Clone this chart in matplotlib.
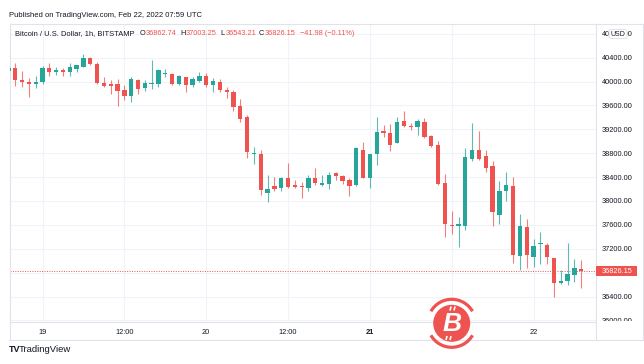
import matplotlib
matplotlib.use('Agg')
import matplotlib.pyplot as plt
import matplotlib.dates as mdates
import matplotlib.patches as mpatches
import pandas as pd

plt.rcParams['font.family'] = ['Liberation Sans', 'DejaVu Sans']

# hourly BTC/USD candles, Bitstamp
times = pd.date_range('2022-02-18 19:00', periods=85, freq='h')
opens = [40178, 40234, 40028, 39995, 39956, 39995, 40228, 40167, 40195, 40156,
         40212, 40251, 40390, 40295, 39983, 39956, 39961, 39855, 39766, 40028,
         39889, 39967, 39967, 40128, 40134, 39967, 40078, 39950, 40017, 40100,
         39950, 39995, 39855, 39828, 39588, 39399, 38787, 38792, 38130, 38252,
         38213, 38380, 38263, 38241, 38219, 38380, 38274, 38280, 38464, 38419,
         38358, 38263, 38848, 38386, 38781, 39165, 39131, 38965, 39337, 39254,
         39232, 39316, 39082, 38943, 38302, 37600, 37589, 37589, 38703, 38859,
         38748, 38581, 37767, 38174, 38258, 37077, 37561, 37054, 37272, 37266,
         37038, 36625, 36659, 36753, 36862.74]
highs = [40250, 40306, 40178, 40067, 40095, 40267, 40317, 40239, 40228, 40312,
         40284, 40462, 40406, 40329, 40073, 40028, 40039, 39944, 40084, 40045,
         40028, 40362, 40206, 40217, 40145, 40111, 40078, 40073, 40162, 40145,
         40056, 40039, 39905, 39861, 39705, 39438, 38903, 38859, 38430, 38408,
         38397, 38636, 38347, 38313, 38441, 38558, 38441, 38480, 38480, 38441,
         38380, 38903, 38987, 38787, 39404, 39276, 39287, 39399, 39499, 39304,
         39371, 39389, 39110, 38999, 38458, 37829, 37734, 38887, 39305, 39177,
         38859, 38676, 38336, 38481, 38402, 37790, 37706, 37366, 37478, 37288,
         37038, 36843, 37288, 37032, 37003.25]
lows = [40150, 39933, 39917, 39738, 39900, 39956, 40100, 40106, 40100, 40100,
        40167, 40239, 40273, 39967, 39906, 39789, 39599, 39694, 39661, 39789,
        39839, 39883, 39917, 40073, 39950, 39950, 39828, 39917, 39989, 39917,
        39833, 39833, 39722, 39499, 39315, 38720, 38619, 38107, 37990, 38163,
        38163, 38224, 38213, 38052, 38163, 38263, 38252, 38202, 38352, 38286,
        38080, 38258, 38386, 38219, 38608, 39076, 38842, 38965, 39237, 39187,
        39098, 39049, 38898, 38263, 37400, 37439, 37227, 37522, 38664, 38692,
        38480, 37589, 37617, 37996, 36954, 36843, 36882, 36893, 36937, 36937,
        36397, 36614, 36592, 36642, 36543.21]
closes = [40228, 40028, 39995, 39956, 39995, 40228, 40156, 40195, 40156, 40251,
          40273, 40395, 40295, 39978, 39922, 39933, 39850, 39766, 40045, 39878,
          39983, 39978, 40189, 40145, 39967, 40095, 39950, 40039, 40100, 39950,
          40017, 39861, 39822, 39566, 39377, 38814, 38809, 38180, 38208, 38196,
          38380, 38235, 38235, 38230, 38380, 38302, 38308, 38430, 38414, 38336,
          38252, 38881, 38386, 38781, 39148, 39137, 38937, 39321, 39248, 39232,
          39343, 39071, 38915, 38286, 37617, 37578, 37617, 38731, 38859, 38703,
          38547, 37818, 38163, 38274, 37088, 37589, 37088, 37244, 37300, 37060,
          36620, 36664, 36781, 36881, 36826.15]

price_ticks = [36000, 36400, 36800, 37200, 37600, 38000, 38400, 38800,
               39200, 39600, 40000, 40400, 40800]
# 36800 label sits under the last-price badge
price_labels = ['36000.00', '36400.00', '', '37200.00', '37600.00', '38000.00', '38400.00',
                '38800.00', '39200.00', '39600.00', '40000.00', '40400.00', '40800.00']
time_ticks = pd.to_datetime(['2022-02-19 00:00', '2022-02-19 12:00', '2022-02-20 00:00',
                             '2022-02-20 12:00', '2022-02-21 00:00', '2022-02-21 12:00',
                             '2022-02-22 00:00'])
# 21 12:00 label is covered by the watermark
time_labels = ['19', '12:00', '20', '12:00', '21', '', '22']
last_close = 36826.15
header_ohlc = [('O', '36862.74'), ('H', '37003.25'), ('L', '36543.21'), ('C', '36826.15')]
header_change = '\u221241.98 (\u22120.11%)'

UP = '#26a69a'
DOWN = '#ef5350'
TXT = '#131722'
BORDER = '#e0e3eb'
GRID = '#f0f3fa'

W, H = 644, 364
fig = plt.figure(figsize=(W / 100, H / 100), dpi=100)
fig.patch.set_facecolor('white')

# main price pane, pixel box x 10..596, y 24..322
ax = fig.add_axes([10 / W, (H - 322) / H, 586 / W, 298 / H])

x = mdates.date2num(times)
colors = [UP if c >= o else DOWN for o, c in zip(opens, closes)]
bottoms = [min(o, c) for o, c in zip(opens, closes)]
heights = [max(abs(c - o), 17) for o, c in zip(opens, closes)]

ax.vlines(x, lows, highs, colors=colors, lw=0.8, alpha=0.75, zorder=2)
ax.bar(x, heights, bottom=bottoms, width=0.63 / 24, color=colors, lw=0, zorder=3)

base = mdates.date2num(pd.Timestamp('2022-02-19'))
ax.set_xlim(base - 4.77 / 24, base + 81.16 / 24)
ax.set_ylim(35973, 40964)

ax.set_yticks(price_ticks, price_labels)
ax.yaxis.tick_right()
ax.tick_params(axis='y', length=0, pad=4.3, labelsize=5.3, labelcolor=TXT)
ax.set_xticks(mdates.date2num(time_ticks), time_labels)
ax.tick_params(axis='x', length=0, pad=5.0, labelsize=5.3, labelcolor=TXT)
ax.get_xticklabels()[4].set_fontweight('bold')
ax.grid(True, color=GRID, lw=0.75, zorder=0)
ax.set_axisbelow(True)
for s in ax.spines.values():
    s.set_color(BORDER)
    s.set_linewidth(0.8)

# last price line and label
ax.axhline(last_close, color=DOWN, lw=0.7, ls=(0, (1, 1.5)), zorder=1)
ytr = ax.get_yaxis_transform()
ax.add_patch(mpatches.Rectangle((1.0, last_close - 80), 41 / 586, 160, transform=ytr,
                                fc=DOWN, ec='none', clip_on=False, zorder=5))
ax.text(1.0 + 6 / 586, last_close, f'{last_close:.2f}', transform=ytr, ha='left',
        va='center', color='white', fontsize=5.3, zorder=6, clip_on=False)

# overlay in pixel coordinates for frame, header and watermark
ov = fig.add_axes([0, 0, 1, 1])
ov.set_xlim(0, W)
ov.set_ylim(H, 0)
ov.axis('off')
ov.patch.set_alpha(0)

ov.add_patch(mpatches.Rectangle((597, 321), 45, 18.5, fc='white', ec='none'))
ov.plot([9.5, 643], [339.5, 339.5], color=BORDER, lw=0.8)
ov.plot([596, 596], [322, 339.5], color=BORDER, lw=0.8)
ov.plot([643, 643], [24, 339.5], color=BORDER, lw=0.8)
ov.plot([596, 643], [24, 24], color=BORDER, lw=0.8)
ov.plot([10, 10], [322, 339.5], color=BORDER, lw=0.8)

ov.text(9, 15.7, 'Published on TradingView.com, Feb 22, 2022 07:59 UTC',
        fontsize=5.5, color=TXT, va='center', ha='left')
ov.text(15, 33.3, 'Bitcoin / U.S. Dollar, 1h, BITSTAMP', fontsize=5.4, color=TXT,
        va='center', ha='left')
for (lab, val), px in zip(header_ohlc, [140, 180, 220, 259]):
    ov.text(px, 33.3, lab, fontsize=5.3, color=TXT, va='center', ha='left')
    ov.text(px + 5.3, 33.3, val, fontsize=5.3, color=DOWN, va='center', ha='left')
ov.text(300, 33.3, header_change, fontsize=5.3, color=DOWN, va='center', ha='left')

# USD badge over the top price label
ov.add_patch(mpatches.FancyBboxPatch((609, 29.5), 18, 9, boxstyle='round,pad=0,rounding_size=2',
                                     fc='white', ec=BORDER, lw=0.7, zorder=4))

ov.text(618, 34.2, 'USD', fontsize=5, color=TXT, ha='center', va='center', zorder=5)

# TradingView footer
ov.text(8.5, 350, 'TV', fontsize=6.5, fontweight='heavy', color=TXT, va='center', ha='left')
ov.text(18.5, 350, 'TradingView', fontsize=6.8, color=TXT, va='center', ha='left')

# bitcoin watermark
cx, cy = 451.7, 323.3
ov.add_patch(mpatches.Circle((cx, cy), 18.5, fc=DOWN, ec='none', zorder=5))
for t1, t2 in [(30, 150), (210, 330)]:
    ov.add_patch(mpatches.Arc((cx, cy), 48, 48, theta1=t1, theta2=t2, color=DOWN,
                              lw=2.3, zorder=5))
ov.text(cx + 0.5, cy + 1, 'B', fontsize=19, fontweight='bold', style='italic',
        color='white', ha='center', va='center', zorder=6)
for x0, y0, y1 in [(450.5, 306.5, 310.5), (454.5, 306.5, 310.5),
                   (446.5, 336, 340), (450.5, 336, 340)]:
    ov.plot([x0 + 0.5, x0 - 0.5], [y0, y1], color='white', lw=1.2, zorder=6,
            solid_capstyle='butt')

fig.savefig('out.png', dpi=100)
